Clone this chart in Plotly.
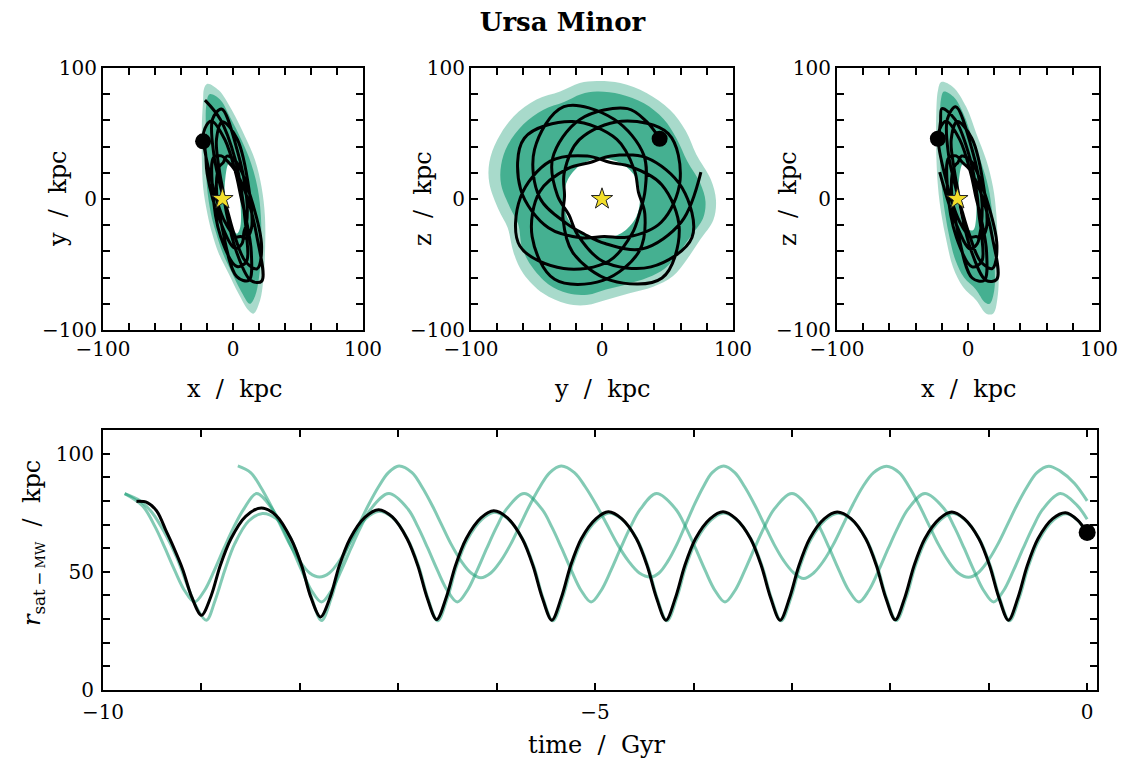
import plotly.graph_objects as go

# ---------------- orbit of the satellite (black), Galactocentric kpc ----------------
orbit_x = [-21.6, -9.7, 1.6, 7.1, 9.0, 10.4, 10.4, 3.1, -9.4,
           -15.8, -14.8, -8.9, -4.3, 0.8, 9.5, 18.5, 22.1,
           13.7, 2.4, -4.9, -7.6, -10.5, -12.7, -8.1, 3.2,
           12.4, 14.2, 10.0, 5.9, 2.1, -6.3, -16.7, -22.6,
           -16.7, -6.2, 2.2, 6.1, 10.0, 14.1, 12.3, 2.9,
           -8.2, -12.8, -10.4, -7.5, -4.8, 2.5, 13.8, 22.0,
           18.5, 9.5, 0.7, -4.2, -9.0, -14.7, -15.7, -8.8,
           3.2, 10.5, 10.4, 8.4, 7.0, 1.5, -9.9, -19.9,
           -21.0, -22.5]
orbit_y = [75.5, 60.7, 30.8, 2.4, -13.3, -27.5, -47.6, -51.5, -29.1,
           9.2, 31.9, 32.9, 28.9, 23.0, 5.1, -29.3, -62.7,
           -62.2, -39.5, -11.2, 5.7, 21.9, 45.6, 59.0, 45.8,
           6.75, -22.4, -29.8, -28.6, -28.9, -17.3, 14.9, 50.6,
           59.6, 45.2, 19.3, 1.65, -14.9, -40.9, -62.1, -59.3,
           -22.7, 11.35, 24.9, 27.8, 32.7, 28.5, 0.76, -36.2,
           -53.3, -47.6, -26.2, -9.1, 6.9, 33.7, 61.0, 68.7,
           37.4, 0.67, -18.6, -25.3, -34.0, -37.7, -16.85, 19.5,
           34.1, 44.0]
orbit_z = [20.5, -17.4, -38.1, -34.0, -26.9, -18.4, 1.1, 37.8, 70.5,
           60.9, 33.5, 6.6, -9.9, -26.4, -47.5, -53.1, -35.9,
           1.3, 28.9, 32.8, 28.0, 24.7, 10.9, -23.2, -60.3,
           -62.1, -40.7, -14.7, 2.05, 19.6, 45.3, 59.4, 49.9,
           14.4, -17.7, -29.1, -28.65, -29.7, -22.0, 7.3, 46.4,
           59.1, 45.5, 21.65, 5.3, -11.4, -39.7, -62.1, -61.3,
           -28.8, 5.5, 23.2, 27.85, 32.9, 31.6, 8.7, -29.4,
           -51.8, -47.6, -27.4, -12.05, 2.7, 31.1, 60.75, 69.0,
           59.0, 46.0]

# present-day position of the satellite and of the Sun
sat_now = {"x": -23.0, "y": 44.0, "z": 46.0}
sun_pos = {"x": -8.1, "y": 0.0, "z": 0.0}

# ---------------- envelope of the sampled orbits (green clouds) ----------------
cloud_xy_outer_x = [-19.7, -10.9, -0.8, 9.4, 17.0, 22.0, 24.6, 24.6, 23.3, 20.8, 15.7,
                    11.9, 4.3, -3.3, -10.9, -16.0, -19.7, -23.0, -24.0, -24.0, -23.0, -22.3]
cloud_xy_outer_y = [88.0, 83.0, 67.7, 47.3, 29.5, 9.0, -13.7, -41.7, -62.0, -77.4, -87.5,
                    -85.0, -72.3, -57.0, -41.7, -26.5, -11.2, 9.2, 32.0, 55.0, 75.3, 84.2]
cloud_xy_core_x = [-18.0, -10.0, -2.0, 7.0, 14.0, 19.0, 21.5, 21.5, 20.0, 17.0, 13.0,
                   6.0, -1.0, -8.0, -13.0, -17.0, -20.0, -21.0, -21.0, -20.5]
cloud_xy_core_y = [80.0, 76.0, 62.0, 44.0, 27.0, 8.0, -14.0, -41.0, -60.0, -74.0, -80.0,
                   -70.0, -56.0, -41.0, -26.0, -11.0, 9.0, 32.0, 55.0, 72.0]
cloud_xy_hole_x = [-3.3, -5.8, -6.3, -3.3, 3.0, 5.6, 5.6, 3.0, -0.8]
cloud_xy_hole_y = [27.0, 16.8, -1.0, -16.3, -26.5, -21.4, -1.0, 16.8, 25.7]

cloud_yz_outer_y = [-4, 14, 34, 52, 64, 72, 83, 87, 85, 75, 64.5, 54, 39, 21, 3.6, -11.7,
                    -27, -45, -60, -67.5, -72, -79, -86, -86, -80, -67.5, -50, -32, -17]
cloud_yz_outer_z = [90, 88.5, 81, 68, 52, 34, 15, -1, -16, -31, -46.5, -59, -67, -72, -77, -81,
                    -80, -72, -57, -41, -22, -8, 12, 28, 45, 63, 76, 82, 88.5]
cloud_yz_core_y = [-4, 14, 32, 47, 57, 65, 75, 79, 77, 68, 58, 48, 35, 19, 3, -11,
                   -26, -41, -54, -61, -64, -70, -77, -77, -72, -60, -45, -29, -16]
cloud_yz_core_z = [82, 80, 73, 61, 46, 29, 12, -2, -15, -28, -42, -53, -60, -65, -69, -73,
                   -72, -65, -51, -37, -19, -7, 11, 26, 41, 57, 68, 74, 80]
cloud_yz_hole_y = [0, 15, 26, 29, 26, 15, 0, -15, -26, -29, -26, -15]
cloud_yz_hole_z = [31, 27, 16, 1, -14, -26, -30, -26, -15, 0, 15, 27]

cloud_xz_outer_x = [-20.4, -11.5, -1.3, 6.4, 14.0, 19.1, 21.6, 22.9, 22.9, 19.1, 14.0,
                    6.4, -3.8, -11.5, -16.5, -20.4, -22.9, -24.2, -24.2, -22.9]
cloud_xz_outer_z = [89.3, 85.5, 70.2, 49.9, 29.5, 9.2, -11.2, -41.7, -72.3, -87.5, -87.5,
                    -77.4, -67.2, -51.9, -31.6, -11.2, 9.2, 34.6, 65.1, 83.0]
cloud_xz_core_x = [-18.5, -11.0, -3.0, 3.0, 10.0, 15.5, 18.5, 20.0, 20.0, 16.5, 13.0,
                   6.0, -3.0, -9.5, -14.0, -17.5, -20.0, -21.5, -21.5, -20.5]
cloud_xz_core_z = [82.0, 78.0, 64.0, 47.0, 28.0, 9.0, -11.0, -41.0, -70.0, -80.0, -79.0,
                   -69.0, -60.0, -47.0, -30.0, -11.0, 9.0, 34.0, 63.0, 77.0]
cloud_xz_hole_x = [-3.8, -6.9, -6.9, -2.5, 3.8, 6.4, 5.1, 1.3]
cloud_xz_hole_z = [27.0, 14.2, -6.1, -21.4, -23.9, -11.2, 9.2, 24.4]

# ---------------- distance to the Milky Way vs lookback time ----------------
t_black = [-9.66, -9.55, -9.45, -9.36, -9.30, -9.19, -9.10, -9.00,
           -8.90, -8.81, -8.70, -8.55, -8.39,
           -8.24, -8.09, -7.98, -7.89, -7.79,
           -7.69, -7.60, -7.49, -7.34, -7.20,
           -7.06, -6.91, -6.80, -6.71, -6.61,
           -6.51, -6.42, -6.31, -6.16, -6.03,
           -5.89, -5.74, -5.63, -5.54, -5.44,
           -5.34, -5.25, -5.14, -4.99, -4.865,
           -4.73, -4.58, -4.47, -4.38, -4.28,
           -4.18, -4.09, -3.98, -3.83, -3.70,
           -3.57, -3.42, -3.31, -3.22, -3.12,
           -3.02, -2.93, -2.82, -2.67, -2.54,
           -2.40, -2.25, -2.14, -2.05, -1.95,
           -1.85, -1.76, -1.65, -1.50, -1.376,
           -1.25, -1.10, -0.99, -0.90, -0.80,
           -0.70, -0.61, -0.50, -0.35, -0.22,
           -0.10, 0.0]
r_black = [79.8, 79.3, 75.5, 67.4, 62.0, 51.0, 39.5, 31.6,
           40.0, 52.5, 64.0, 73.5, 77.0,
           73.8, 64.0, 52.5, 39.5, 30.9,
           39.5, 52.5, 64.0, 73.0, 76.3,
           73.2, 64.0, 52.5, 39.5, 29.8,
           39.5, 52.5, 64.0, 72.8, 75.8,
           72.8, 64.0, 52.5, 39.5, 29.5,
           39.5, 52.5, 64.0, 72.5, 75.4,
           72.5, 64.0, 52.5, 39.5, 29.5,
           39.5, 52.5, 64.0, 72.5, 75.4,
           72.5, 64.0, 52.5, 39.5, 29.5,
           39.5, 52.5, 64.0, 72.5, 75.3,
           72.5, 64.0, 52.5, 39.5, 29.7,
           39.5, 52.5, 64.0, 72.5, 75.3,
           72.5, 64.0, 52.5, 39.5, 29.5,
           39.5, 52.5, 64.0, 72.5, 75.0,
           72.0, 66.6]

t_g1 = [-8.63, -8.50, -8.40, -8.30, -8.20, -8.10, -8.00, -7.90,
        -7.80, -7.70, -7.60, -7.50, -7.40, -7.30, -7.20, -7.10,
        -6.993, -6.86, -6.76, -6.66, -6.56, -6.46, -6.36, -6.26,
        -6.16, -6.06, -5.96, -5.86, -5.76, -5.66, -5.56, -5.46,
        -5.344, -5.21, -5.10, -4.99, -4.88, -4.77, -4.66, -4.55,
        -4.436, -4.35, -4.26, -4.17, -4.08, -3.99, -3.90, -3.81,
        -3.693, -3.58, -3.48, -3.38, -3.28, -3.18, -3.08, -2.98,
        -2.88, -2.78, -2.68, -2.58, -2.48, -2.38, -2.28, -2.17,
        -2.039, -1.91, -1.81, -1.71, -1.61, -1.51, -1.41, -1.31,
        -1.206, -1.11, -1.01, -0.91, -0.81, -0.71, -0.61, -0.51,
        -0.391, -0.27, -0.13, 0.0]
r_g1 = [94.8, 92.0, 86.0, 78.5, 70.0, 61.5, 54.5, 49.5,
        47.8, 49.5, 54.5, 61.5, 70.0, 78.5, 86.0, 92.0,
        94.8, 92.0, 86.0, 78.5, 70.0, 61.5, 54.5, 49.5,
        47.5, 49.5, 54.5, 61.5, 70.0, 78.5, 86.0, 92.0,
        94.8, 92.0, 86.0, 78.5, 70.0, 61.5, 54.5, 49.5,
        47.8, 49.5, 54.5, 61.5, 70.0, 78.5, 86.0, 92.0,
        94.8, 92.0, 86.0, 78.5, 70.0, 61.5, 54.5, 49.5,
        47.2, 49.5, 54.5, 61.5, 70.0, 78.5, 86.0, 92.0,
        94.7, 92.0, 86.0, 78.5, 70.0, 61.5, 54.5, 49.5,
        47.7, 49.5, 54.5, 61.5, 70.0, 78.5, 86.0, 92.0,
        94.7, 92.5, 87.5, 80.0]

t_g2 = [-9.78, -9.60, -9.47, -9.37, -9.27, -9.17, -9.07,
        -8.97, -8.87, -8.77, -8.67, -8.57, -8.44,
        -8.28, -8.18, -8.08, -7.98, -7.88, -7.78,
        -7.68, -7.58, -7.48, -7.38, -7.28, -7.095,
        -6.90, -6.80, -6.70, -6.60, -6.50, -6.40,
        -6.30, -6.20, -6.10, -6.00, -5.90, -5.72,
        -5.54, -5.44, -5.34, -5.24, -5.14, -5.04,
        -4.94, -4.84, -4.74, -4.64, -4.54, -4.375,
        -4.18, -4.08, -3.98, -3.88, -3.78, -3.68,
        -3.58, -3.48, -3.38, -3.28, -3.18, -3.00,
        -2.82, -2.72, -2.62, -2.52, -2.42, -2.32,
        -2.22, -2.12, -2.02, -1.92, -1.82, -1.648,
        -1.45, -1.35, -1.25, -1.15, -1.05, -0.95,
        -0.85, -0.75, -0.65, -0.55, -0.45, -0.272,
        -0.10, 0.0]
r_g2 = [83.1, 78.0, 69.0, 60.0, 50.5, 42.0, 37.2,
        42.0, 50.5, 60.0, 69.0, 76.5, 83.1,
        76.5, 69.0, 60.0, 50.5, 42.0, 37.2,
        42.0, 50.5, 60.0, 69.0, 76.5, 83.1,
        76.5, 69.0, 60.0, 50.5, 42.0, 37.2,
        42.0, 50.5, 60.0, 69.0, 76.5, 83.1,
        76.5, 69.0, 60.0, 50.5, 42.0, 37.2,
        42.0, 50.5, 60.0, 69.0, 76.5, 83.1,
        76.5, 69.0, 60.0, 50.5, 42.0, 37.2,
        42.0, 50.5, 60.0, 69.0, 76.5, 83.1,
        76.5, 69.0, 60.0, 50.5, 42.0, 37.2,
        42.0, 50.5, 60.0, 69.0, 76.5, 83.1,
        76.5, 69.0, 60.0, 50.5, 42.0, 37.2,
        42.0, 50.5, 60.0, 69.0, 76.5, 83.1,
        78.0, 72.2]

t_g3 = [-9.78, -9.62, -9.50, -9.38, -9.25, -9.14, -9.05, -8.95,
        -8.86, -8.76, -8.66, -8.52, -8.38,
        -8.24, -8.09, -7.98, -7.88, -7.78,
        -7.68, -7.59, -7.48, -7.33, -7.19,
        -7.05, -6.90, -6.79, -6.70, -6.60,
        -6.50, -6.41, -6.30, -6.15, -6.02,
        -5.88, -5.73, -5.62, -5.53, -5.43,
        -5.33, -5.24, -5.13, -4.98, -4.855,
        -4.72, -4.57, -4.46, -4.37, -4.27,
        -4.17, -4.08, -3.97, -3.82, -3.69,
        -3.56, -3.41, -3.30, -3.21, -3.11,
        -3.01, -2.92, -2.81, -2.66, -2.53,
        -2.39, -2.24, -2.13, -2.04, -1.94,
        -1.84, -1.75, -1.64, -1.49, -1.366,
        -1.24, -1.09, -0.98, -0.89, -0.79,
        -0.69, -0.60, -0.49, -0.34, -0.21,
        -0.09, 0.0]
r_g3 = [83.1, 80.0, 75.0, 67.0, 56.0, 44.0, 35.0, 29.5,
        38.0, 51.0, 62.0, 71.5, 74.7,
        72.5, 64.0, 52.0, 39.0, 29.4,
        39.0, 52.0, 63.5, 72.5, 75.6,
        72.6, 63.5, 52.0, 39.0, 29.3,
        39.0, 52.0, 63.5, 72.2, 75.2,
        72.2, 63.5, 52.0, 39.0, 29.3,
        39.0, 52.0, 63.5, 72.0, 74.9,
        72.0, 63.5, 52.0, 39.0, 29.3,
        39.0, 52.0, 63.5, 72.0, 74.9,
        72.0, 63.5, 52.0, 39.0, 29.3,
        39.0, 52.0, 63.5, 72.0, 74.8,
        72.0, 63.5, 52.0, 39.0, 29.4,
        39.0, 52.0, 63.5, 72.0, 74.8,
        72.0, 63.5, 52.0, 39.0, 29.3,
        39.0, 52.0, 63.5, 72.0, 74.6,
        71.5, 66.0]
r_now = 66.6

# ---------------- styling ----------------
FONT = "DejaVu Serif"
GREEN = "27,158,119"
INK = "#000000"

fig = go.Figure()

panels = [
    ("x", "y", cloud_xy_outer_x, cloud_xy_outer_y, cloud_xy_core_x, cloud_xy_core_y,
     cloud_xy_hole_x, cloud_xy_hole_y, orbit_x, orbit_y, "x", "y"),
    ("y", "z", cloud_yz_outer_y, cloud_yz_outer_z, cloud_yz_core_y, cloud_yz_core_z,
     cloud_yz_hole_y, cloud_yz_hole_z, orbit_y, orbit_z, "x2", "y2"),
    ("x", "z", cloud_xz_outer_x, cloud_xz_outer_z, cloud_xz_core_x, cloud_xz_core_z,
     cloud_xz_hole_x, cloud_xz_hole_z, orbit_x, orbit_z, "x3", "y3"),
]

for (h, v, ox, oy, cx, cy, hx, hy, px, py, xa, ya) in panels:
    fig.add_trace(go.Scatter(x=ox + ox[:1], y=oy + oy[:1], mode="lines", fill="toself",
                             fillcolor=f"rgba({GREEN},0.38)", line=dict(width=0, shape="spline"),
                             xaxis=xa, yaxis=ya, hoverinfo="skip"))
    fig.add_trace(go.Scatter(x=cx + cx[:1], y=cy + cy[:1], mode="lines", fill="toself",
                             fillcolor=f"rgba({GREEN},0.7)", line=dict(width=0, shape="spline"),
                             xaxis=xa, yaxis=ya, hoverinfo="skip"))
    fig.add_trace(go.Scatter(x=hx + hx[:1], y=hy + hy[:1], mode="lines", fill="toself",
                             fillcolor="white", line=dict(width=0, shape="spline"),
                             xaxis=xa, yaxis=ya, hoverinfo="skip"))
    fig.add_trace(go.Scatter(x=px, y=py, mode="lines",
                             line=dict(color=INK, width=3, shape="spline", smoothing=1.0),
                             xaxis=xa, yaxis=ya, hoverinfo="skip"))
    fig.add_trace(go.Scatter(x=[sun_pos[h]], y=[sun_pos[v]], mode="markers",
                             marker=dict(symbol="star", size=16, color="#f2de2a",
                                         line=dict(color="#222222", width=1)),
                             xaxis=xa, yaxis=ya, hoverinfo="skip"))
    fig.add_trace(go.Scatter(x=[sat_now[h]], y=[sat_now[v]], mode="markers",
                             marker=dict(size=16, color=INK),
                             xaxis=xa, yaxis=ya, hoverinfo="skip"))

for tt, rr in ((t_g1, r_g1), (t_g2, r_g2), (t_g3, r_g3)):
    fig.add_trace(go.Scatter(x=tt, y=rr, mode="lines",
                             line=dict(color=f"rgba({GREEN},0.55)", width=3,
                                       shape="spline", smoothing=1.0),
                             xaxis="x4", yaxis="y4", hoverinfo="skip"))
fig.add_trace(go.Scatter(x=t_black, y=r_black, mode="lines",
                         line=dict(color=INK, width=3, shape="spline", smoothing=0.9),
                         xaxis="x4", yaxis="y4", hoverinfo="skip"))
fig.add_trace(go.Scatter(x=[0.0], y=[r_now], mode="markers", marker=dict(size=17, color=INK),
                         xaxis="x4", yaxis="y4", hoverinfo="skip", cliponaxis=False))

W, H = 1125, 769


def px_x(p):
    return p / W


def px_y(p):
    return 1 - p / H


def axis(domain, rng, major, minor, anchor, standoff=0):
    return dict(domain=domain, range=rng, anchor=anchor, tickvals=major, automargin=False,
                ticks="inside", ticklen=7, tickwidth=1.5, tickcolor=INK,
                showline=True, linewidth=2, linecolor=INK, mirror="allticks",
                showgrid=False, zeroline=False, ticklabelstandoff=standoff,
                tickfont=dict(family=FONT, size=20, color=INK),
                minor=dict(dtick=minor, ticks="inside", ticklen=7, tickwidth=1.5,
                           tickcolor=INK, showgrid=False))


top_y = [px_y(330), px_y(68)]
layout = dict(
    width=W, height=H, margin=dict(l=0, r=0, t=0, b=0, autoexpand=False),
    paper_bgcolor="white", plot_bgcolor="white", showlegend=False,
    font=dict(family=FONT, color=INK),
    title=dict(text="<b>Ursa Minor</b>", x=0.5, xanchor="center", y=px_y(22), yanchor="middle",
               font=dict(family=FONT, size=26, color=INK), automargin=False),
    xaxis=axis([px_x(103), px_x(363)], [-100, 100], [-100, 0, 100], 20, "y"),
    yaxis=axis(top_y, [-100, 100], [-100, 0, 100], 20, "x"),
    xaxis2=axis([px_x(471), px_x(733)], [-100, 100], [-100, 0, 100], 20, "y2"),
    yaxis2=axis(top_y, [-100, 100], [-100, 0, 100], 20, "x2"),
    xaxis3=axis([px_x(837), px_x(1099)], [-100, 100], [-100, 0, 100], 20, "y3"),
    yaxis3=axis(top_y, [-100, 100], [-100, 0, 100], 20, "x3"),
    xaxis4=axis([px_x(103), px_x(1097)], [-10, 0.1], [-10, -5, 0], 1, "y4", standoff=3),
    yaxis4=axis([px_y(690), px_y(430)], [0, 110], [0, 50, 100], 10, "x4", standoff=3),
)
fig.update_layout(**layout)

label_font = dict(family=FONT, size=24, color=INK)
sp = "\u00a0\u00a0"
titles = [
    (234, 389, f"x{sp}/{sp}kpc", 0), (602, 389, f"y{sp}/{sp}kpc", 0), (968, 389, f"x{sp}/{sp}kpc", 0),
    (58, 199, f"y{sp}/{sp}kpc", -90), (423, 199, f"z{sp}/{sp}kpc", -90), (788, 199, f"z{sp}/{sp}kpc", -90),
    (597, 745, f"time{sp}/{sp}Gyr", 0),
    (33, 543, f"<i>r</i><sub>sat\u2009\u2212\u2009<span style='font-size:13px'>MW</span></sub>{sp}/{sp}kpc", -90),
]
for x0, y0, txt, ang in titles:
    fig.add_annotation(x=px_x(x0), y=px_y(y0), xref="paper", yref="paper", text=txt,
                       showarrow=False, textangle=ang, font=label_font,
                       xanchor="center", yanchor="middle")

fig.write_html("out.html")
